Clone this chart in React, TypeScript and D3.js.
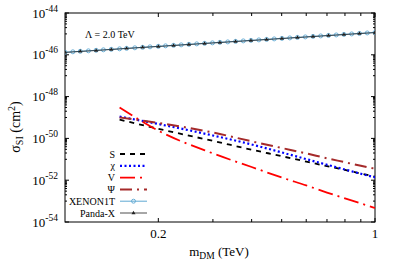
import { useEffect, useRef } from 'react'
import * as d3 from 'd3'

// dark matter mass (TeV) for the model curves
const massDM = [0.15, 0.2, 0.3, 0.4, 0.5, 0.6, 0.7, 0.8, 0.9, 1.0]
// sigma_SI (cm^2) per model
const sigmaS = [7.94e-50, 2.88e-50, 7.59e-51, 2.88e-51, 1.41e-51, 7.76e-52, 4.68e-52, 3.09e-52, 2.09e-52, 1.48e-52]
const sigmaChi = [1.10e-49, 4.90e-50, 1.38e-50, 5.13e-51, 2.14e-51, 1.02e-51, 5.50e-52, 3.24e-52, 2.04e-52, 1.35e-52]
const sigmaV = [3.02e-49, 2.34e-50, 1.91e-51, 4.27e-52, 1.35e-52, 5.62e-53, 2.57e-53, 1.35e-53, 7.76e-54, 4.68e-54]
const sigmaPsi = [1.00e-49, 5.50e-50, 1.91e-50, 7.24e-51, 3.47e-51, 1.91e-51, 1.12e-51, 7.24e-52, 4.90e-52, 3.55e-52]

// experimental limits
const xenonMass = [0.100, 0.106, 0.112, 0.119, 0.126, 0.133, 0.141, 0.150, 0.158, 0.168, 0.178, 0.188, 0.200, 0.211, 0.224, 0.237, 0.251, 0.266, 0.282, 0.299, 0.316, 0.335, 0.355, 0.376, 0.398, 0.422, 0.447, 0.473, 0.501, 0.531, 0.562, 0.596, 0.631, 0.668, 0.708, 0.750, 0.794, 0.841, 0.891, 0.944, 1.000]
const xenonSigma = [1.32e-46, 1.39e-46, 1.47e-46, 1.55e-46, 1.64e-46, 1.73e-46, 1.83e-46, 1.93e-46, 2.04e-46, 2.16e-46, 2.28e-46, 2.41e-46, 2.54e-46, 2.68e-46, 2.83e-46, 2.99e-46, 3.16e-46, 3.34e-46, 3.53e-46, 3.73e-46, 3.94e-46, 4.15e-46, 4.39e-46, 4.63e-46, 4.89e-46, 5.17e-46, 5.46e-46, 5.77e-46, 6.09e-46, 6.43e-46, 6.80e-46, 7.18e-46, 7.58e-46, 8.01e-46, 8.46e-46, 8.93e-46, 9.43e-46, 9.96e-46, 1.052e-45, 1.111e-45, 1.174e-45]
const pandaMass = [0.100, 0.112, 0.126, 0.141, 0.158, 0.178, 0.200, 0.224, 0.251, 0.282, 0.316, 0.355, 0.398, 0.447, 0.501, 0.562, 0.631, 0.708, 0.794, 0.891, 1.000]
const pandaSigma = [1.30e-46, 1.45e-46, 1.61e-46, 1.80e-46, 2.01e-46, 2.25e-46, 2.50e-46, 2.79e-46, 3.11e-46, 3.48e-46, 3.88e-46, 4.33e-46, 4.82e-46, 5.38e-46, 6.00e-46, 6.70e-46, 7.47e-46, 8.33e-46, 9.29e-46, 1.037e-45, 1.157e-45]

const yMajorExp = [-54, -52, -50, -48, -46, -44]
const xTickValues = [0.2, 0.3, 0.4, 0.5, 0.6, 0.7, 0.8, 0.9, 1]
const xTickLabels = [0.2, 1]

const FONT = '"Liberation Serif", "DejaVu Serif", serif'

export default function App() {
  const svgRef = useRef<SVGSVGElement>(null)

  useEffect(() => {
    if (!svgRef.current) return
    const svg = d3.select(svgRef.current)
    svg.selectAll('*').remove()

    const margin = { top: 13, right: 24, bottom: 57, left: 65 }
    const W = 399, H = 279
    const width = W - margin.left - margin.right
    const height = H - margin.top - margin.bottom

    const x = d3.scaleLog().domain([0.1, 1]).range([margin.left, margin.left + width])
    const y = d3.scaleLog().domain([1e-54, 1e-44]).range([margin.top + height, margin.top])

    svg.append('rect').attr('width', W).attr('height', H).attr('fill', '#fff')

    svg.append('clipPath').attr('id', 'plot-clip')
      .append('rect')
      .attr('x', margin.left).attr('y', margin.top)
      .attr('width', width).attr('height', height)

    const axes = svg.append('g').attr('stroke', '#000').attr('stroke-width', 1)

    // y ticks, gnuplot style: majors every 2 decades, minors in the upper decade
    yMajorExp.forEach((e, i) => {
      const yy = y(Math.pow(10, e))
      axes.append('line').attr('x1', margin.left).attr('x2', margin.left + 4).attr('y1', yy).attr('y2', yy)
      axes.append('line').attr('x1', margin.left + width).attr('x2', margin.left + width - 4).attr('y1', yy).attr('y2', yy)
      if (i < yMajorExp.length - 1) {
        for (let k = 1; k <= 9; k++) {
          const ym = y(k * Math.pow(10, e + 1))
          axes.append('line').attr('x1', margin.left).attr('x2', margin.left + 2).attr('y1', ym).attr('y2', ym)
          axes.append('line').attr('x1', margin.left + width).attr('x2', margin.left + width - 2).attr('y1', ym).attr('y2', ym)
        }
      }
      const label = svg.append('text')
        .attr('x', margin.left - 7)
        .attr('y', yy + 4.5)
        .attr('text-anchor', 'end')
        .style('font-family', FONT)
        .style('font-size', '13px')
        .attr('fill', '#000')
      label.append('tspan').text('10')
      label.append('tspan').attr('dy', -6).style('font-size', '9.5px').text(String(e))
    })

    // x ticks
    xTickValues.forEach(v => {
      const xx = x(v)
      const len = xTickLabels.includes(v) ? 4 : 3
      axes.append('line').attr('x1', xx).attr('x2', xx).attr('y1', margin.top + height).attr('y2', margin.top + height - len)
      axes.append('line').attr('x1', xx).attr('x2', xx).attr('y1', margin.top).attr('y2', margin.top + len)
    })
    xTickLabels.forEach(v => {
      svg.append('text')
        .attr('x', x(v))
        .attr('y', margin.top + height + 16)
        .attr('text-anchor', 'middle')
        .style('font-family', FONT)
        .style('font-size', '13px')
        .text(String(v))
    })

    // frame
    svg.append('rect')
      .attr('x', margin.left).attr('y', margin.top)
      .attr('width', width).attr('height', height)
      .attr('fill', 'none').attr('stroke', '#000').attr('stroke-width', 1)

    const plot = svg.append('g').attr('clip-path', 'url(#plot-clip)')

    const line = d3.line<[number, number]>()
      .x(d => x(d[0]))
      .y(d => y(d[1]))
      .curve(d3.curveMonotoneX)

    const series = [
      { key: 'S', sigma: sigmaS, color: '#000000', dash: '5,5', width: 1.8 },
      { key: 'χ', sigma: sigmaChi, color: '#0000ff', dash: '2,2.5', width: 2.2 },
      { key: 'V', sigma: sigmaV, color: '#ff0000', dash: '15,5,2,5', width: 1.8 },
      { key: 'Ψ', sigma: sigmaPsi, color: '#a52a2a', dash: '12,5,2,5', width: 2 },
    ]

    // experimental limits
    const xenonPts = xenonMass.map((m, i) => [m, xenonSigma[i]] as [number, number])
    const pandaPts = pandaMass.map((m, i) => [m, pandaSigma[i]] as [number, number])

    plot.append('path').datum(xenonPts).attr('d', line)
      .attr('fill', 'none').attr('stroke', '#5fa8d3').attr('stroke-width', 1)
    plot.selectAll('.xenon-pt').data(xenonPts).enter().append('circle')
      .attr('class', 'xenon-pt')
      .attr('cx', d => x(d[0])).attr('cy', d => y(d[1]))
      .attr('r', 2)
      .attr('fill', 'none').attr('stroke', '#5fa8d3').attr('stroke-width', 0.9)

    plot.append('path').datum(pandaPts).attr('d', line)
      .attr('fill', 'none').attr('stroke', '#222').attr('stroke-width', 0.8)
    const tri = d3.symbol().type(d3.symbolTriangle).size(7)
    plot.selectAll('.panda-pt').data(pandaPts).enter().append('path')
      .attr('class', 'panda-pt')
      .attr('transform', d => `translate(${x(d[0])},${y(d[1])})`)
      .attr('d', tri as any)
      .attr('fill', '#222')

    // model curves
    series.forEach(s => {
      const pts = massDM.map((m, i) => [m, s.sigma[i]] as [number, number])
      plot.append('path').datum(pts).attr('d', line)
        .attr('fill', 'none')
        .attr('stroke', s.color)
        .attr('stroke-width', s.width)
        .attr('stroke-dasharray', s.dash)
    })

    // legend
    const legendItems = [
      ...series.map(s => ({ label: s.key, color: s.color, dash: s.dash, width: s.width, marker: '' })),
      { label: 'XENON1T', color: '#5fa8d3', dash: '', width: 1, marker: 'circle' },
      { label: 'Panda-X', color: '#222', dash: '', width: 0.8, marker: 'triangle' },
    ]
    const legend = svg.append('g')
    legendItems.forEach((d, i) => {
      const ly = 154 + i * 11.8
      legend.append('text')
        .attr('x', 115).attr('y', ly + 3.5)
        .attr('text-anchor', 'end')
        .style('font-family', FONT)
        .style('font-size', '10px')
        .text(d.label)
      legend.append('line')
        .attr('x1', 120).attr('x2', 147).attr('y1', ly).attr('y2', ly)
        .attr('stroke', d.color).attr('stroke-width', d.width)
        .attr('stroke-dasharray', d.dash || null)
      if (d.marker === 'circle') {
        legend.append('circle').attr('cx', 133.5).attr('cy', ly).attr('r', 2)
          .attr('fill', 'none').attr('stroke', d.color).attr('stroke-width', 0.9)
      } else if (d.marker === 'triangle') {
        legend.append('path').attr('transform', `translate(133.5,${ly})`)
          .attr('d', tri as any).attr('fill', d.color)
      }
    })

    // annotation
    svg.append('text')
      .attr('x', 85).attr('y', 38)
      .style('font-family', FONT)
      .style('font-size', '10px')
      .text('Λ = 2.0 TeV')

    // axis titles
    const yTitle = svg.append('text')
      .attr('transform', `translate(20,127) rotate(-90)`)
      .attr('text-anchor', 'middle')
      .style('font-family', FONT)
      .style('font-size', '14px')
    yTitle.append('tspan').text('σ')
    yTitle.append('tspan').attr('dy', 3).style('font-size', '10px').text('SI')
    yTitle.append('tspan').attr('dy', -3).text(' (cm')
    yTitle.append('tspan').attr('dy', -5).style('font-size', '10px').text('2')
    yTitle.append('tspan').attr('dy', 5).text(')')

    const xTitle = svg.append('text')
      .attr('x', 219).attr('y', 256)
      .attr('text-anchor', 'middle')
      .style('font-family', FONT)
      .style('font-size', '13px')
    xTitle.append('tspan').text('m')
    xTitle.append('tspan').attr('dy', 3).style('font-size', '9.5px').text('DM')
    xTitle.append('tspan').attr('dy', -3).text(' (TeV)')
  }, [])

  return (
    <div style={{ position: 'absolute', left: 0, top: 0 }}>
      <svg ref={svgRef} width={399} height={279} style={{ display: 'block' }} />
    </div>
  )
}
